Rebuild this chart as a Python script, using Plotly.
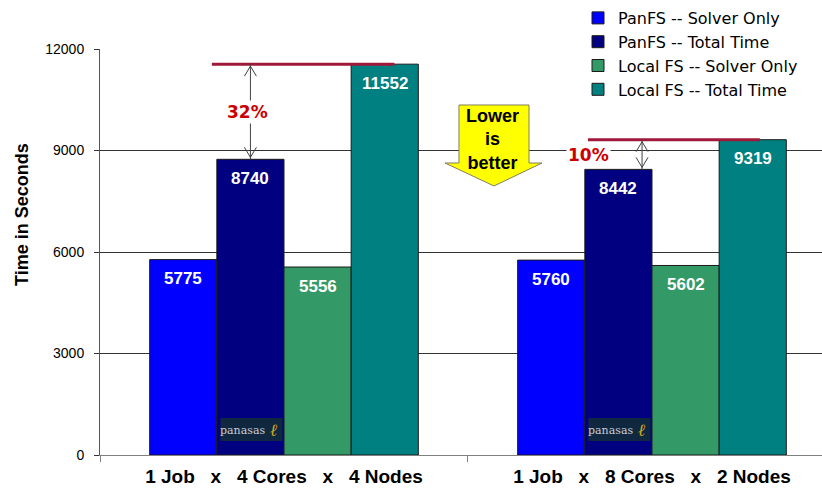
import plotly.graph_objects as go

# ---- data ----
categories = ["1\u00a0Job\u00a0\u00a0\u00a0x\u00a0\u00a0\u00a04\u00a0Cores\u00a0\u00a0\u00a0x\u00a0\u00a0\u00a04\u00a0Nodes",
              "1\u00a0Job\u00a0\u00a0\u00a0x\u00a0\u00a0\u00a08\u00a0Cores\u00a0\u00a0\u00a0x\u00a0\u00a0\u00a02\u00a0Nodes"]
series_names = ["PanFS -- Solver Only", "PanFS -- Total Time",
                "Local FS -- Solver Only", "Local FS -- Total Time"]
panfs_solver = [5775, 5760]
panfs_total = [8740, 8442]
local_solver = [5556, 5602]
local_total = [11552, 9319]
pct_labels = ["32%", "10%"]
y_ticks = [0, 3000, 6000, 9000, 12000]

series_values = [panfs_solver, panfs_total, local_solver, local_total]
colors = ["#0000FF", "#000080", "#339966", "#008080"]

MAIN = "Liberation Sans, Arial, sans-serif"
LEGFONT = "DejaVu Sans, Verdana, sans-serif"
xpos = list(range(len(categories)))
bargap = 0.27
nser = len(series_values)
bw = (1 - bargap) / nser
offsets = [(i - (nser - 1) / 2) * bw for i in range(nser)]

fig = go.Figure()
for name, vals, col in zip(series_names, series_values, colors):
    fig.add_trace(go.Bar(
        x=xpos, y=vals, name=name,
        marker=dict(color=col, line=dict(color="#1a1a1a", width=1)),
    ))

annotations = []
shapes = []
# value labels inside bars
for si, vals in enumerate(series_values):
    for ci, v in enumerate(vals):
        annotations.append(dict(
            x=xpos[ci] + offsets[si], y=v, xref="x", yref="y",
            text=f"{v}", showarrow=False, yanchor="middle", yshift=-19,
            font=dict(family=MAIN, size=17, color="white", weight="bold"),
        ))

# percent comparison lines / arrows
line_spans = [(-0.196, 0.30), (-0.174, 0.293)]
arrow_x = [xpos[0] + offsets[1], xpos[1] - 0.027]
pct_x = [xpos[0] + offsets[1], xpos[1] + offsets[1] - bw / 2]
pct_xshift = [-3, 4]
for ci in range(len(categories)):
    top = local_total[ci]
    low = panfs_total[ci]
    x0, x1 = line_spans[ci]
    shapes.append(dict(type="line", xref="x", yref="y",
                       x0=xpos[ci] + x0, x1=xpos[ci] + x1, y0=top, y1=top,
                       line=dict(color="#A0183A", width=3), layer="above"))
    ax = arrow_x[ci]
    shapes.append(dict(type="line", xref="x", yref="y", x0=ax, x1=ax,
                       y0=low, y1=top, line=dict(color="#404040", width=1),
                       layer="above"))
    # chevron heads
    shapes.append(dict(type="path", xref="x", yref="y",
                       xsizemode="pixel", ysizemode="pixel",
                       xanchor=ax, yanchor=top,
                       path="M -6,-12 L 0,-2 L 6,-12",
                       line=dict(color="#404040", width=1), layer="above"))
    shapes.append(dict(type="path", xref="x", yref="y",
                       xsizemode="pixel", ysizemode="pixel",
                       xanchor=ax, yanchor=low,
                       path="M -6,12 L 0,2 L 6,12",
                       line=dict(color="#404040", width=1), layer="above"))
    annotations.append(dict(
        x=pct_x[ci], y=(top + low) / 2, xref="x", yref="y", xshift=pct_xshift[ci],
        text=pct_labels[ci], showarrow=False, bgcolor="white",
        font=dict(family="DejaVu Sans, Verdana, sans-serif", size=17,
                  color="#CC0000", weight="bold"),
    ))

# panasas logos
for ci in range(len(categories)):
    nx = xpos[ci] + offsets[1]
    shapes.append(dict(type="rect", xref="x", yref="y",
                       xsizemode="pixel", ysizemode="pixel",
                       xanchor=nx, yanchor=0, x0=-30, x1=32, y0=14, y1=37,
                       fillcolor="#10283F", line=dict(width=0), layer="above"))
    annotations.append(dict(x=nx, y=0, xref="x", yref="y", xshift=-8, yshift=25,
                            text="panasas", showarrow=False,
                            font=dict(family="DejaVu Serif, Liberation Serif, serif",
                                      size=11, color="#C8CDD6")))
    annotations.append(dict(x=nx, y=0, xref="x", yref="y", xshift=23, yshift=25,
                            text="<i>ℓ</i>", showarrow=False,
                            font=dict(family="DejaVu Serif, serif", size=17,
                                      color="#D4A820")))

# "Lower is better" arrow
def P(px, py):
    return f"{(px - 100) / 722:.4f},{(455 - py) / 406:.4f}"
pts = [(459, 105), (529, 105), (529, 163), (542, 163), (494, 186), (445, 163), (459, 163)]
path = "M " + " L ".join(P(*p) for p in pts) + " Z"
shapes.append(dict(type="path", xref="paper", yref="paper", path=path,
                   fillcolor="#FFFF00", line=dict(color="#7f7f60", width=1),
                   layer="above"))
annotations.append(dict(x=(492 - 100) / 722, y=(455 - 139) / 406, xref="paper", yref="paper",
                        xanchor="center", yanchor="middle",
                        text="Lower<br>is<br>better", showarrow=False,
                        font=dict(family=MAIN, size=18, color="black", weight="bold")))

# y axis title
annotations.append(dict(x=(22 - 100) / 722, y=(455 - 215) / 406, xref="paper", yref="paper",
                        xanchor="center", yanchor="middle",
                        text="Time in Seconds", textangle=-90, showarrow=False,
                        font=dict(family=MAIN, size=18, color="black", weight="bold")))

fig.update_layout(
    width=822, height=490,
    margin=dict(l=100, r=0, t=49, b=35, autoexpand=False),
    paper_bgcolor="white", plot_bgcolor="white",
    barmode="group", bargap=bargap, bargroupgap=0,
    showlegend=True,
    legend=dict(x=(578 - 100) / 722, xanchor="left", y=(455 - 1) / 406,
                yanchor="top", bgcolor="white", borderwidth=0,
                font=dict(family=LEGFONT, size=16, color="black"),
                tracegroupgap=0, itemwidth=30),
    annotations=annotations, shapes=shapes,
    xaxis=dict(range=[-0.5, 1.462], tickvals=xpos, ticktext=categories,
               ticks="", showgrid=False, zeroline=False,
               showline=True, linecolor="#808080", linewidth=1,
               ticklabelstandoff=4,
               tickfont=dict(family=MAIN, size=19, color="black", weight="bold"),
               minor=dict(tickmode="array", tickvals=[-0.5, 0.5, 1.5], ticks="outside",
                          ticklen=6, tickcolor="#808080", showgrid=False)),
    yaxis=dict(range=[0, 12000], tickvals=y_ticks, ticktext=[str(t) for t in y_ticks],
               ticks="outside", ticklen=5, tickcolor="#333",
               showgrid=True, gridcolor="#333", gridwidth=1, zeroline=False,
               showline=True, linecolor="#555", linewidth=1,
               ticklabelstandoff=7,
               tickfont=dict(family=MAIN, size=14, color="black")),
)

fig.write_html("out.html", config={"displayModeBar": False},
               post_script="document.body.style.margin='0';")
